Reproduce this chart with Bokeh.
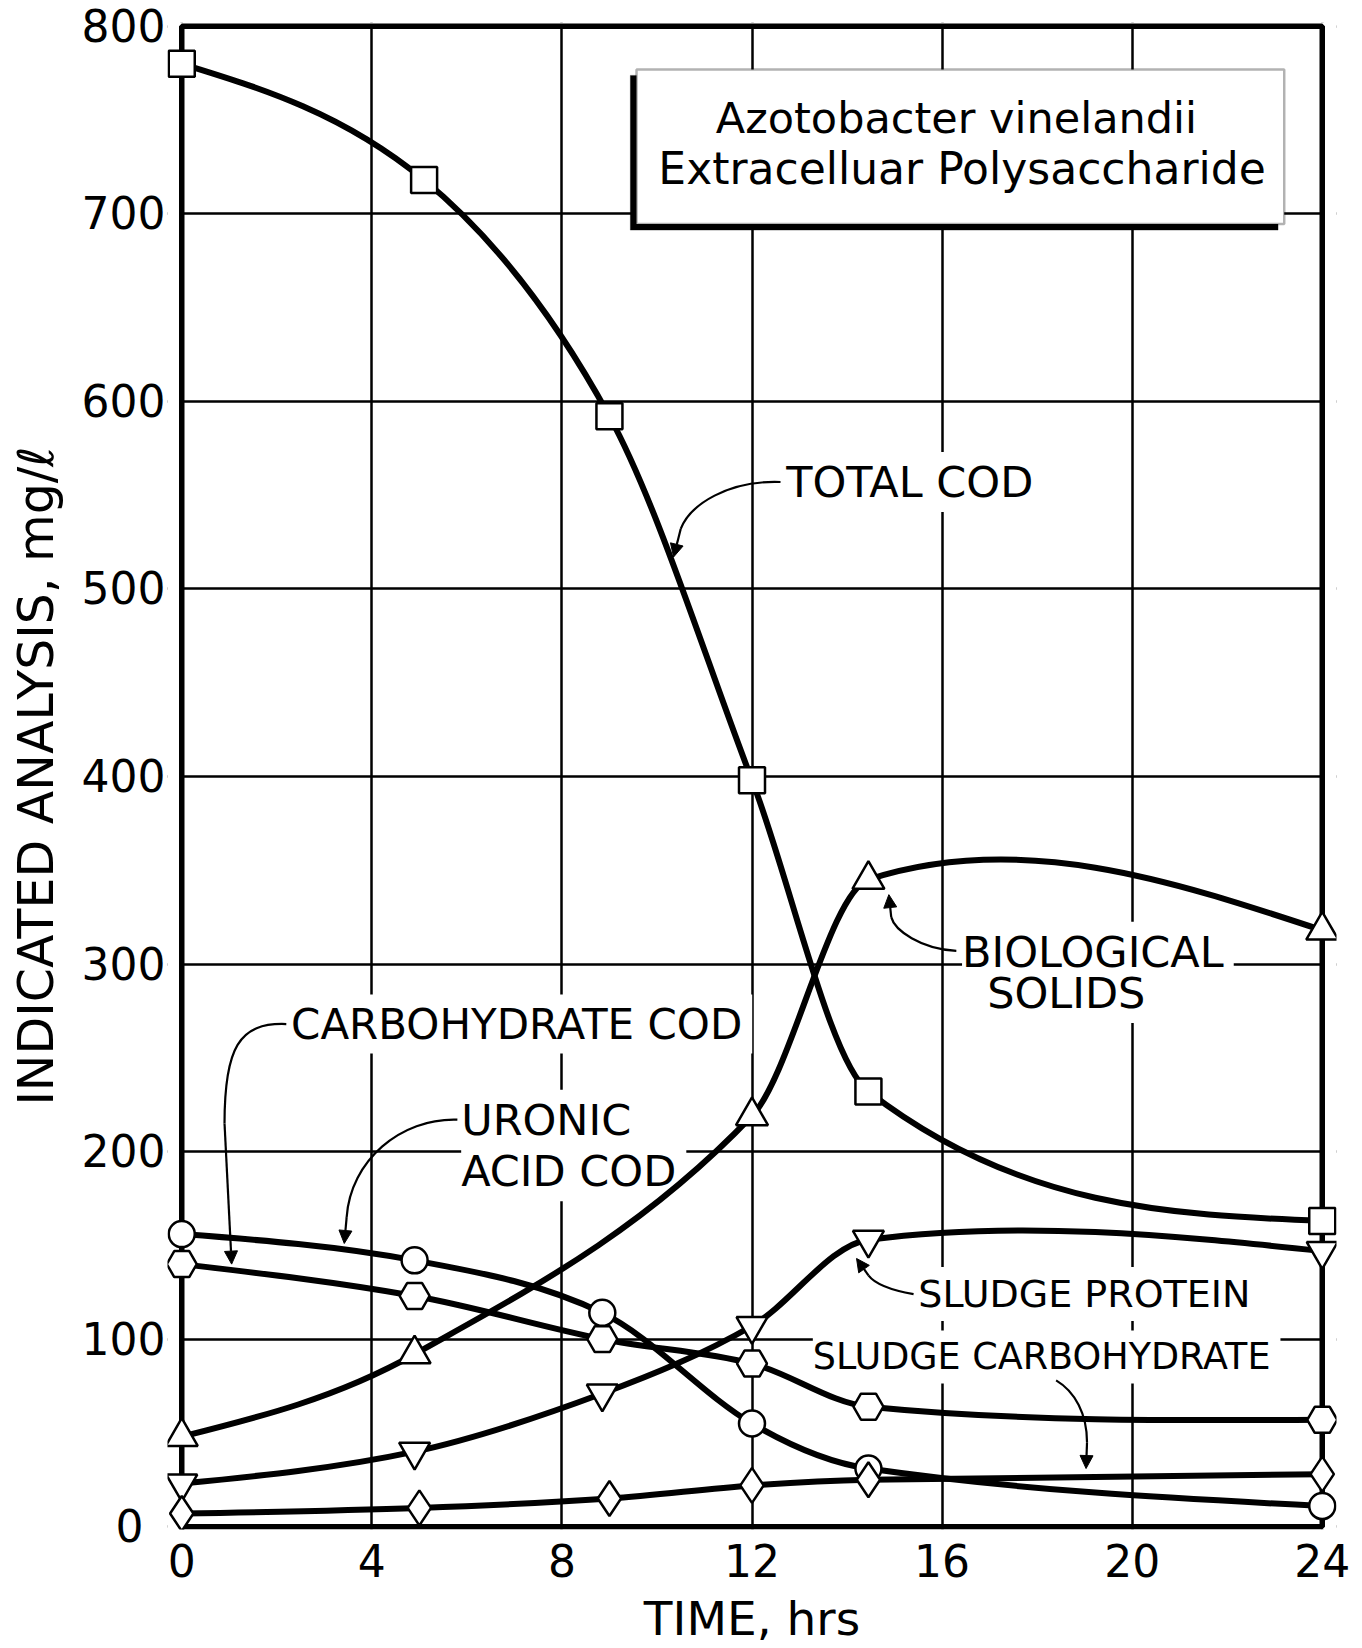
import numpy as np
from bokeh.plotting import figure
from bokeh.models import (Range1d, FixedTicker, Label, BoxAnnotation, Arrow,
                          NormalHead, ColumnDataSource)
from bokeh.embed import file_html
from bokeh.resources import INLINE

# ---------------- data ----------------
time_total_cod = [0, 5.1, 9.0, 12.0, 14.45, 24.0]
total_cod = [780, 718, 592, 398, 232, 163]

time_bio = [0, 4.9, 12.0, 14.45, 24.0]
biological_solids = [48, 92, 219, 345, 318]

time_protein = [0, 4.9, 8.85, 12.0, 14.45, 24.0]
sludge_protein = [23, 40, 71, 107, 153, 147]

time_uronic = [0, 4.9, 8.85, 12.0, 14.45, 24.0]
uronic_acid_cod = [156, 142, 114, 55, 31, 11]

time_carb = [0, 4.9, 8.85, 12.0, 14.45, 24.0]
carbohydrate_cod = [140, 123, 100, 87, 64, 57]

time_sludge_carb = [0, 5.0, 9.0, 12.0, 14.45, 24.0]
sludge_carbohydrate = [7, 10, 15, 22, 25, 28]

x_ticks = [0, 4, 8, 12, 16, 20, 24]
y_ticks = [0, 100, 200, 300, 400, 500, 600, 700, 800]
x_limits = (0, 24)
y_limits = (0, 800)

FONT = "DejaVu Sans"
X0, X1 = -0.3, 24.3     # a little room so edge markers are not clipped
Y0, Y1 = -1.5, 802


def smooth_segments(xs, ys):
    """Piecewise cubic Hermite curve through the points, as Bezier segments."""
    xs = np.asarray(xs, float)
    ys = np.asarray(ys, float)
    n = len(xs)
    m = np.zeros(n)
    for i in range(1, n - 1):
        m[i] = (ys[i + 1] - ys[i - 1]) / (xs[i + 1] - xs[i - 1])
    s0 = (ys[1] - ys[0]) / (xs[1] - xs[0])
    sn = (ys[-1] - ys[-2]) / (xs[-1] - xs[-2])
    m[0] = (3 * s0 - m[1]) / 2
    m[-1] = (3 * sn - m[-2]) / 2
    h = np.diff(xs)
    return ColumnDataSource(dict(
        x0=xs[:-1], y0=ys[:-1], x1=xs[1:], y1=ys[1:],
        cx0=xs[:-1] + h / 3, cy0=ys[:-1] + m[:-1] * h / 3,
        cx1=xs[1:] - h / 3, cy1=ys[1:] - m[1:] * h / 3))


p = figure(width=1362, height=1648,
           x_range=Range1d(X0, X1), y_range=Range1d(Y0, Y1),
           output_backend="svg", toolbar_location=None,
           min_border_left=167, min_border_right=26,
           min_border_top=22, min_border_bottom=116)
p.outline_line_color = None
p.background_fill_color = "white"
p.border_fill_color = "white"

# axes
p.xaxis.ticker = FixedTicker(ticks=x_ticks)
p.yaxis.ticker = FixedTicker(ticks=y_ticks)
p.yaxis.major_label_overrides = {0: "0\u2002"}
for ax in (p.xaxis[0], p.yaxis[0]):
    ax.axis_line_color = None
    ax.major_tick_line_color = None
    ax.minor_tick_line_color = None
    ax.major_label_text_font = FONT
    ax.major_label_text_font_size = "44px"
    ax.major_label_text_color = "black"
    ax.axis_label_text_font = FONT
    ax.axis_label_text_font_style = "normal"
    ax.axis_label_text_color = "black"
p.xaxis.major_label_standoff = 8
p.yaxis.major_label_standoff = -4
p.xaxis.axis_label = "TIME, hrs"
p.xaxis.axis_label_text_font_size = "47px"
p.xaxis.axis_label_standoff = 11
p.yaxis.axis_label = "INDICATED ANALYSIS, mg/\u2113"
p.yaxis.axis_label_text_font_size = "49px"
p.yaxis.axis_label_standoff = 14

p.grid.grid_line_color = "black"
p.grid.grid_line_width = 2.5

# ---------------- text labels on the plot ----------------
labels = [
    ("TOTAL COD", 12.72, 557, "43px"),
    ("BIOLOGICAL", 16.42, 306.5, "43px"),
    ("SOLIDS", 16.95, 284.5, "43px"),
    ("CARBOHYDRATE COD", 2.3, 268, "42px"),
    ("URONIC", 5.88, 217, "43px"),
    ("ACID COD", 5.88, 189.5, "43px"),
    ("SLUDGE PROTEIN", 15.5, 124, "38px"),
    ("SLUDGE CARBOHYDRATE", 13.28, 90.5, "36.5px"),
]
# first pass: white backgrounds that break the grid lines behind the texts
for txt, lx, ly, fs in labels:
    p.add_layout(Label(x=lx, y=ly, text=txt, text_align="left", text_baseline="middle",
                       text_font=FONT, text_font_size=fs, text_color="white",
                       background_fill_color="white", padding=5, level="underlay"))
# second pass: the texts themselves
for txt, lx, ly, fs in labels:
    p.add_layout(Label(x=lx, y=ly, text=txt, text_align="left", text_baseline="middle",
                       text_font=FONT, text_font_size=fs, text_color="black",
                       level="underlay"))

# white masks over grid stubs outside the 0-24 / 0-800 frame, then the frame itself
p.quad(left=[X0, x_limits[1], X0, X0], right=[x_limits[0], X1, X1, X1],
       bottom=[Y0, Y0, Y0, y_limits[1]], top=[Y1, Y1, y_limits[0], Y1],
       fill_color="white", line_color=None)
p.quad(left=[x_limits[0]], right=[x_limits[1]], bottom=[y_limits[0]], top=[y_limits[1]],
       fill_color=None, line_color="black", line_width=5.5)

# ---------------- curves and markers ----------------
series = [
    (time_total_cod, total_cod, "square", 26),
    (time_bio, biological_solids, "triangle", 32),
    (time_protein, sludge_protein, "inverted_triangle", 31),
    (time_uronic, uronic_acid_cod, "circle", 26),
    (time_carb, carbohydrate_cod, "hex", 30),
    (time_sludge_carb, sludge_carbohydrate, "diamond", 35),
]
for xs, ys, mk, sz in series:
    p.bezier(x0="x0", y0="y0", x1="x1", y1="y1", cx0="cx0", cy0="cy0",
             cx1="cx1", cy1="cy1", source=smooth_segments(xs, ys),
             line_color="black", line_width=6, line_cap="round")
for xs, ys, mk, sz in series:
    p.scatter(xs, ys, marker=mk, size=sz, fill_color="white", line_color="black",
              line_width=2.5)

# ---------------- leader lines with arrow heads ----------------
leaders = [
    # (bezier P0, C0, C1, P1, arrow tip)
    ((12.6, 557), (11.5, 558), (10.7, 545), (10.5, 532), (10.35, 517)),
    ((16.3, 307), (15.55, 308), (15.0, 318), (14.93, 325), (14.88, 337)),
    ((2.2, 268), (1.2, 269), (0.9, 255), (0.9, 215), (1.05, 140)),
    ((5.8, 217), (4.6, 218), (3.55, 195), (3.47, 165), (3.42, 151)),
    ((15.4, 124), (14.95, 126), (14.6, 129), (14.45, 134), (14.2, 143)),
    ((18.4, 78), (18.8, 72), (19.05, 60), (19.05, 45), (19.03, 31)),
]
p.bezier(x0=[l[0][0] for l in leaders], y0=[l[0][1] for l in leaders],
         cx0=[l[1][0] for l in leaders], cy0=[l[1][1] for l in leaders],
         cx1=[l[2][0] for l in leaders], cy1=[l[2][1] for l in leaders],
         x1=[l[3][0] for l in leaders], y1=[l[3][1] for l in leaders],
         line_color="black", line_width=2.2)
for l in leaders:
    p.add_layout(Arrow(end=NormalHead(size=13, fill_color="black", line_color="black",
                                      line_width=1),
                       x_start=l[3][0], y_start=l[3][1], x_end=l[4][0], y_end=l[4][1],
                       line_color="black", line_width=2.2))

# ---------------- title box ----------------
p.add_layout(BoxAnnotation(left=9.44, right=23.07, bottom=691.3, top=773.8,
                           fill_color="black", fill_alpha=1, line_color="black"))
p.add_layout(BoxAnnotation(left=9.57, right=23.2, bottom=694.5, top=777,
                           fill_color="white", fill_alpha=1, line_color="black",
                           line_width=2.5))
p.add_layout(Label(x=16.3, y=751, text="Azotobacter vinelandii", text_align="center",
                   text_baseline="middle", text_font=FONT, text_font_size="43px",
                   text_color="black"))
p.add_layout(Label(x=16.42, y=724, text="Extracelluar Polysaccharide", text_align="center",
                   text_baseline="middle", text_font=FONT, text_font_size="44px",
                   text_color="black"))

open("out.html", "w").write(file_html(p, INLINE))
